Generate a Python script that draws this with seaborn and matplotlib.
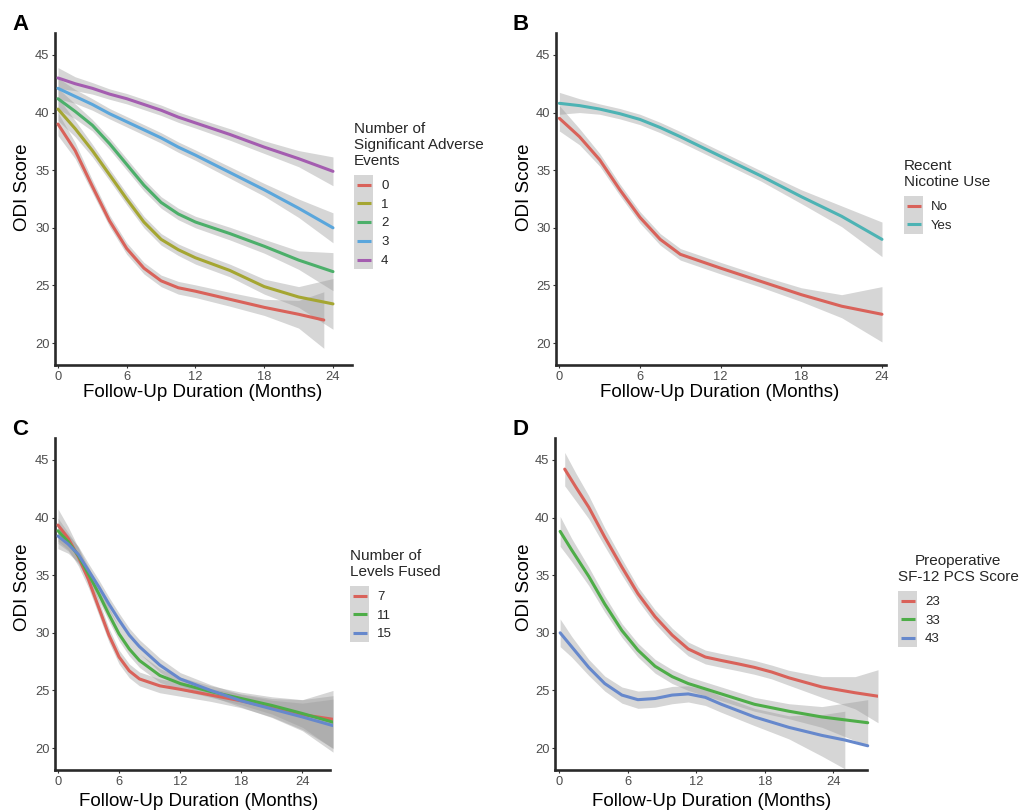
import numpy as np
import pandas as pd
import matplotlib
matplotlib.use("Agg")
import matplotlib.pyplot as plt
import seaborn as sns
from matplotlib.legend_handler import HandlerBase
from matplotlib.patches import Rectangle
from matplotlib.lines import Line2D

# ---------------- data ----------------
# Panel A: number of significant adverse events
months_a = [0, 1.5, 3, 4.5, 6, 7.5, 9, 10.5, 12, 15, 18, 21, 24]
months_a0 = [0, 1.5, 3, 4.5, 6, 7.5, 9, 10.5, 12, 15, 18, 21, 23.2]
odi_a0 = [39.0, 36.7, 33.6, 30.6, 28.2, 26.5, 25.4, 24.8, 24.5, 23.8, 23.1, 22.5, 22.0]
odi_a1 = [40.3, 38.6, 36.7, 34.6, 32.5, 30.5, 29.0, 28.1, 27.4, 26.3, 24.9, 24.0, 23.4]
odi_a2 = [41.2, 40.1, 38.9, 37.3, 35.5, 33.7, 32.2, 31.2, 30.5, 29.5, 28.4, 27.2, 26.2]
odi_a3 = [42.1, 41.4, 40.7, 39.9, 39.2, 38.5, 37.8, 37.0, 36.3, 34.8, 33.3, 31.7, 30.0]
odi_a4 = [43.0, 42.5, 42.1, 41.6, 41.2, 40.7, 40.2, 39.6, 39.1, 38.1, 37.0, 36.0, 34.9]
ci_a0 = [1.0, 0.7, 0.55, 0.5, 0.5, 0.5, 0.5, 0.55, 0.55, 0.6, 0.7, 1.2, 2.45]
ci_a1 = [1.0, 0.7, 0.55, 0.5, 0.5, 0.5, 0.5, 0.5, 0.55, 0.55, 0.65, 0.9, 2.2]
ci_a2 = [0.9, 0.65, 0.5, 0.5, 0.5, 0.5, 0.5, 0.5, 0.5, 0.55, 0.6, 0.8, 1.65]
ci_a3 = [0.9, 0.6, 0.5, 0.45, 0.45, 0.45, 0.45, 0.45, 0.45, 0.5, 0.55, 0.8, 1.3]
ci_a4 = [0.9, 0.6, 0.5, 0.45, 0.45, 0.45, 0.45, 0.45, 0.45, 0.5, 0.55, 0.7, 1.25]
labels_a = ["0", "1", "2", "3", "4"]

# Panel B: recent nicotine use
months_b = [0, 1.5, 3, 4.5, 6, 7.5, 9, 12, 15, 18, 21, 24]
odi_b_no = [39.5, 37.9, 35.9, 33.3, 30.9, 29.0, 27.7, 26.5, 25.35, 24.2, 23.2, 22.5]
odi_b_yes = [40.8, 40.6, 40.3, 39.9, 39.4, 38.7, 37.9, 36.2, 34.5, 32.7, 31.0, 29.0]
ci_b_no = [1.1, 0.7, 0.55, 0.5, 0.5, 0.5, 0.5, 0.5, 0.5, 0.6, 1.0, 2.4]
ci_b_yes = [0.95, 0.6, 0.45, 0.45, 0.45, 0.45, 0.45, 0.45, 0.45, 0.6, 0.9, 1.5]
labels_b = ["No", "Yes"]

# Panel C: number of levels fused
months_c = [0, 1, 2, 3, 4, 5, 6, 7, 8, 10, 12, 15, 18, 21, 24, 27]
odi_c7 = [39.35, 38.2, 36.6, 34.6, 32.2, 29.8, 27.9, 26.7, 26.0, 25.4, 25.1, 24.6, 24.1, 23.5, 22.9, 22.5]
odi_c11 = [38.85, 37.9, 36.7, 35.1, 33.4, 31.6, 29.9, 28.6, 27.6, 26.3, 25.6, 24.9, 24.3, 23.7, 23.0, 22.25]
odi_c15 = [38.4, 37.7, 36.8, 35.4, 34.0, 32.5, 31.1, 29.8, 28.8, 27.2, 26.0, 25.0, 24.1, 23.4, 22.7, 21.95]
ci_c7 = [1.4, 1.0, 0.8, 0.7, 0.65, 0.6, 0.6, 0.6, 0.6, 0.6, 0.6, 0.55, 0.6, 0.8, 1.3, 2.5]
ci_c11 = [1.1, 0.8, 0.7, 0.6, 0.6, 0.6, 0.6, 0.6, 0.6, 0.6, 0.55, 0.5, 0.55, 0.75, 1.2, 2.3]
ci_c15 = [1.1, 0.8, 0.7, 0.6, 0.6, 0.6, 0.6, 0.6, 0.6, 0.6, 0.55, 0.5, 0.55, 0.75, 1.2, 2.3]
labels_c = ["7", "11", "15"]

# Panel D: preoperative SF-12 PCS score
months_d23 = [0.5, 1.5, 2.6, 4.0, 5.5, 6.9, 8.4, 9.9, 11.3, 12.8, 14.2, 15.7, 17.1, 18.6, 20.1, 23.0, 25.9, 27.9]
odi_d23 = [44.2, 42.6, 40.9, 38.3, 35.7, 33.4, 31.4, 29.8, 28.6, 27.9, 27.6, 27.3, 27.0, 26.6, 26.1, 25.3, 24.8, 24.5]
ci_d23 = [1.45, 1.2, 1.0, 0.8, 0.7, 0.6, 0.6, 0.6, 0.6, 0.6, 0.6, 0.6, 0.6, 0.6, 0.65, 0.9, 1.4, 2.3]
months_d33 = [0.1, 1.1, 2.6, 4.0, 5.5, 6.9, 8.4, 9.9, 11.3, 14.2, 17.1, 20.1, 23.0, 27.0]
odi_d33 = [38.8, 37.2, 34.9, 32.5, 30.2, 28.5, 27.1, 26.2, 25.6, 24.7, 23.8, 23.2, 22.7, 22.2]
ci_d33 = [1.3, 1.0, 0.8, 0.7, 0.6, 0.6, 0.6, 0.6, 0.6, 0.6, 0.6, 0.65, 0.9, 2.0]
months_d43 = [0.1, 1.1, 2.6, 4.0, 5.5, 6.9, 8.4, 9.9, 11.3, 12.8, 14.2, 17.1, 20.1, 23.0, 25.0, 27.0]
odi_d43 = [30.0, 28.8, 27.0, 25.6, 24.6, 24.2, 24.3, 24.6, 24.7, 24.4, 23.8, 22.7, 21.8, 21.1, 20.7, 20.2]
ci_d43 = [1.2, 0.9, 0.7, 0.65, 0.7, 0.75, 0.75, 0.75, 0.7, 0.7, 0.7, 0.75, 1.0, 1.8, 2.5, np.nan]
labels_d = ["23", "33", "43"]

x_ticks = [0, 6, 12, 18, 24]
y_ticks = [20, 25, 30, 35, 40, 45]

# ---------------- styling ----------------
sns.set_theme(style="white")
plt.rcParams["font.family"] = ["Liberation Sans", "DejaVu Sans"]

RED = "#D9625A"
OLIVE = "#A5A632"
GREEN5 = "#4CAF6A"
BLUE5 = "#5AA6DC"
PURPLE = "#A45DB0"
TEAL = "#4DB3B4"
GREEN3 = "#4EAD48"
BLUE3 = "#6688CC"
BAND = "#999999"
KEY_BG = "#D6D6D6"

W, H = 1023, 811
fig = plt.figure(figsize=(W / 100, H / 100), dpi=100)


def fx(px):
    return px / W


def fy(py):
    return 1 - py / H


class KeyHandler(HandlerBase):
    def create_artists(self, legend, orig_handle, xdescent, ydescent,
                       width, height, fontsize, trans):
        rect = Rectangle((-xdescent, -ydescent), width, height,
                         facecolor=KEY_BG, edgecolor="none", transform=trans)
        ym = height / 2 - ydescent
        ln = Line2D([-xdescent + 2, width - xdescent - 1.5], [ym, ym],
                    color=orig_handle.get_color(), lw=2.2,
                    solid_capstyle="butt", transform=trans)
        return [rect, ln]


def panel(rect_px, series, xlim, spine_end, title, labels, colors,
          legend_px, ylab_px, xlab_px, letter, letter_px, title_center=False):
    l, t, r, b = rect_px
    ax = fig.add_axes([fx(l), fy(b), fx(r - l), (b - t) / H])
    rows = []
    for lab, xs, ys, ci in series:
        xs = np.asarray(xs, float)
        ys = np.asarray(ys, float)
        ci = np.asarray(ci, float)
        ax.fill_between(xs, ys - ci, ys + ci, color=BAND, alpha=0.4, lw=0, zorder=1)
        rows.append(pd.DataFrame({"month": xs, "odi": ys, "group": lab}))
    df = pd.concat(rows, ignore_index=True)
    sns.lineplot(data=df, x="month", y="odi", hue="group", hue_order=labels,
                 palette=dict(zip(labels, colors)), estimator=None, sort=False,
                 lw=2.2, legend=False, ax=ax, zorder=3)
    ax.set_xlim(*xlim)
    ax.set_ylim(18.1, 46.9)
    ax.set_xticks(x_ticks)
    ax.set_yticks(y_ticks)
    for s in ["top", "right"]:
        ax.spines[s].set_visible(False)
    for s in ["left", "bottom"]:
        ax.spines[s].set_linewidth(1.9)
        ax.spines[s].set_color("#2a2a2a")
        ax.spines[s].set_capstyle("projecting")
    ax.spines["bottom"].set_bounds(xlim[0], spine_end)
    ax.tick_params(direction="out", length=2.5, width=0.8, color="#333333",
                   labelsize=9.3, labelcolor="#4D4D4D", pad=1.5,
                   bottom=True, left=True)
    ax.set_xlabel("Follow-Up Duration (Months)", fontsize=13.5, color="black")
    ax.set_ylabel("ODI Score", fontsize=13.5, color="black")
    ax.xaxis.set_label_coords(fx(xlab_px[0]), fy(xlab_px[1]), transform=fig.transFigure)
    ax.yaxis.set_label_coords(fx(ylab_px[0]), fy(ylab_px[1]), transform=fig.transFigure)
    handles = [Line2D([], [], color=c) for c in colors]
    leg = fig.legend(handles, labels, title=title, loc="upper left",
                     bbox_to_anchor=(fx(legend_px[0]), fy(legend_px[1])),
                     frameon=False, borderpad=0, borderaxespad=0, labelspacing=0,
                     handlelength=1.45, handleheight=1.81, handletextpad=0.6,
                     fontsize=9.5, title_fontsize=11,
                     handler_map={Line2D: KeyHandler()},
                     alignment="left")
    if title_center:
        leg.get_title().set_multialignment("center")
    leg._legend_box.sep = 5
    fig.text(fx(letter_px[0]), fy(letter_px[1]), letter, fontsize=16,
             fontweight="bold", ha="left", va="baseline", color="black")
    return ax


panel((55, 33, 352, 365),
      [("0", months_a0, odi_a0, ci_a0), ("1", months_a, odi_a1, ci_a1),
       ("2", months_a, odi_a2, ci_a2), ("3", months_a, odi_a3, ci_a3),
       ("4", months_a, odi_a4, ci_a4)],
      (-0.26, 25.66), 25.66, "Number of\nSignificant Adverse\nEvents",
      labels_a, [RED, OLIVE, GREEN5, BLUE5, PURPLE],
      (354, 122), (31, 187), (203, 384), "A", (12, 30.5))

panel((556, 33, 886, 365),
      [("No", months_b, odi_b_no, ci_b_no), ("Yes", months_b, odi_b_yes, ci_b_yes)],
      (-0.25, 24.3), 24.3, "Recent\nNicotine Use",
      labels_b, [RED, TEAL],
      (904, 159), (533, 187), (720, 384), "B", (512, 30.5))

panel((55, 438, 333, 770),
      [("7", months_c, odi_c7, ci_c7), ("11", months_c, odi_c11, ci_c11),
       ("15", months_c, odi_c15, ci_c15)],
      (-0.29, 27.0), 26.7, "Number of\nLevels Fused",
      labels_c, [RED, GREEN3, BLUE3],
      (350, 549), (31, 587), (199, 793), "C", (12, 435))

panel((555, 438, 878, 770),
      [("23", months_d23, odi_d23, ci_d23), ("33", months_d33, odi_d33, ci_d33),
       ("43", months_d43, odi_d43, ci_d43)],
      (-0.35, 27.9), 26.95, "Preoperative\nSF-12 PCS Score",
      labels_d, [RED, GREEN3, BLUE3],
      (898, 554), (533, 587), (712, 793), "D", (512, 435), title_center=True)

fig.savefig("out.png", dpi=100)
